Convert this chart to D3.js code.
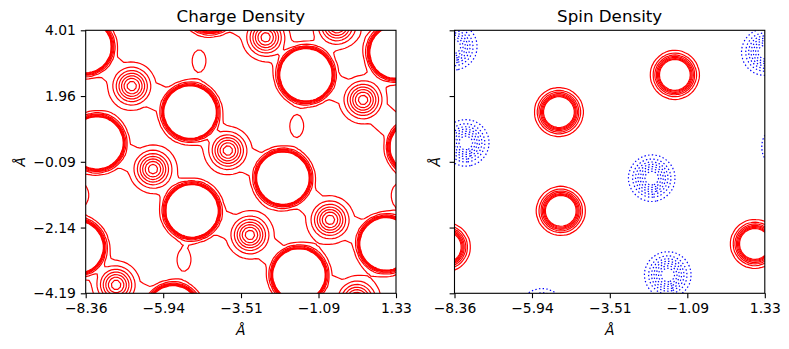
<!DOCTYPE html>
<html>
<head>
<meta charset="UTF-8">
<title>Charge and spin density</title>
<script src="https://cdnjs.cloudflare.com/ajax/libs/d3/7.8.5/d3.min.js"></script>
<style>
  body { margin: 0; background: #fff; }
  text { font-family: "DejaVu Sans", sans-serif; fill: #000; }
</style>
</head>
<body>
<script>
  // axis ticks (Angstrom)
  var xTicks = [-8.36, -5.94, -3.51, -1.09, 1.33];
  var yTicks = [4.01, 1.96, -0.09, -2.14, -4.19];

  // heavy (magnetic) atoms, spin sign +1 / -1
  var heavyX    = [-5.10, -1.48, -2.20, -5.04, -1.70, -8.01, -8.63, -8.38, -4.48, -5.63, 1.02, 1.33, 1.96];
  var heavyY    = [ 1.46,  2.62, -0.60, -1.62, -3.62,  0.50, -2.75,  3.50,  4.80, -4.77, -2.65, 3.33, 0.37];
  var heavySpin = [ 1,     1,    -1,     1,    -1,    -1,     1,    -1,    -1,    -1,     1,   -1,   -1];

  // light atoms (small peaked contours)
  var lightX = [-6.92, 0.30, -2.74, -3.92, -6.26, -0.73, -3.23, -7.41, 0.11, -0.51];
  var lightY = [ 2.27, 1.84,  3.79,  0.26, -0.32, -1.90, -2.37, -3.93, -4.40, 4.17];

  // heavy-light links that share the outer contour (indices into the lists above)
  var bondHeavy = [7, 0, 0, 2, 2, 10, 5, 3, 3, 4, 4, 8, 1, 1, 12, 6, 9];
  var bondLight = [0, 0, 3, 3, 5, 5,  4, 4, 6, 6, 8, 2, 2, 1, 1,  7, 7];

  // weak interstitial blobs
  var blobX = [-4.82, -1.77, -5.29, 1.40, -8.48];
  var blobY = [ 3.06,  1.02, -3.15, -1.13, -1.13];

  var chargeLevels = [0.1, 0.2, 0.3, 0.4, 0.5, 0.6, 0.7];
  var spinLevels = [-0.7, -0.6, -0.5, -0.4, -0.3, -0.2, -0.1, 0.1, 0.2, 0.3, 0.4, 0.5, 0.6, 0.7];

  var W = 789, H = 349;
  var axTop = 30.3, axBottom = 293.3, pw = 310.3;
  var panels = [
    {left: 85.7, title: "Charge Density", kind: "charge", yLabels: true, ylabX: 25},
    {left: 454.5, title: "Spin Density", kind: "spin", yLabels: false, ylabX: 440}
  ];

  // sampling grid, a bit larger than the view so edge closures are clipped away
  var step = 0.1, pad = 0.8;
  var gx0 = xTicks[0] - pad, gyTop = yTicks[0] + pad;
  var nx = Math.round((xTicks[4] - xTicks[0] + 2 * pad) / step) + 1;
  var ny = Math.round((yTicks[0] - yTicks[4] + 2 * pad) / step) + 1;

  function segDist(px, py, ax, ay, bx, by) {
    var vx = bx - ax, vy = by - ay;
    var t = ((px - ax) * vx + (py - ay) * vy) / (vx * vx + vy * vy);
    t = Math.max(0, Math.min(1, t));
    var dx = px - (ax + t * vx), dy = py - (ay + t * vy);
    return Math.sqrt(dx * dx + dy * dy);
  }

  function charge(px, py) {
    var v = 0, bond = 0;
    heavyX.forEach(function(hx, k) {
      var dx = px - hx, dy = py - heavyY[k], r2 = dx * dx + dy * dy, r = Math.sqrt(r2);
      v += 50 / (1 + Math.exp((r - 0.42) / 0.09)) + 0.15 * Math.exp(-r2 / (2 * 0.5 * 0.5));
    });
    lightX.forEach(function(lx, k) {
      var dx = px - lx, dy = py - lightY[k], r2 = dx * dx + dy * dy;
      v += 0.62 * Math.exp(-r2 / (2 * 0.32 * 0.32)) + 0.15 * Math.exp(-r2 / (2 * 0.55 * 0.55));
    });
    blobX.forEach(function(bx, k) {
      var dx = px - bx, dy = py - blobY[k];
      v += 0.16 * Math.exp(-dx * dx / (2 * 0.22 * 0.22) - dy * dy / (2 * 0.34 * 0.34));
    });
    bondHeavy.forEach(function(hk, k) {
      var lk = bondLight[k];
      var d = segDist(px, py, heavyX[hk], heavyY[hk], lightX[lk], lightY[lk]);
      bond = Math.max(bond, 0.15 * Math.exp(-d * d / (2 * 0.45 * 0.45)));
    });
    return Math.max(v, bond);
  }

  function spin(px, py) {
    var v = 0;
    heavyX.forEach(function(hx, k) {
      var dx = px - hx, dy = py - heavyY[k], r2 = dx * dx + dy * dy;
      if (heavySpin[k] > 0) v += 2.5 * Math.exp(-r2 / (2 * 0.3 * 0.3));
      else v -= 0.85 * Math.exp(-r2 / (2 * 0.35 * 0.35));
    });
    return v;
  }

  function grid(fn) {
    var vals = new Array(nx * ny);
    for (var j = 0; j < ny; j++)
      for (var i = 0; i < nx; i++)
        vals[j * nx + i] = fn(gx0 + i * step, gyTop - j * step);
    return vals;
  }

  var svg = d3.select("body").append("svg")
    .attr("width", W)
    .attr("height", H);

  var fmt = function(d) { return d3.format(".2f")(d).replace("-", "\u2212"); };

  panels.forEach(function(p, pi) {
    var x = d3.scaleLinear().domain([xTicks[0], xTicks[4]]).range([p.left, p.left + pw]);
    var y = d3.scaleLinear().domain([yTicks[4], yTicks[0]]).range([axBottom, axTop]);

    var proj = d3.geoTransform({
      point: function(cx, cy) {
        this.stream.point(x(gx0 + (cx - 0.5) * step), y(gyTop - (cy - 0.5) * step));
      }
    });
    var path = d3.geoPath(proj);

    svg.append("clipPath").attr("id", "clip" + pi)
      .append("rect")
      .attr("x", p.left).attr("y", axTop)
      .attr("width", pw).attr("height", axBottom - axTop);

    var g = svg.append("g").attr("clip-path", "url(#clip" + pi + ")");

    if (p.kind === "charge") {
      var cs = d3.contours().size([nx, ny]).thresholds(chargeLevels)(grid(charge));
      g.selectAll("path").data(cs).enter().append("path")
        .attr("d", path)
        .attr("fill", "none")
        .attr("stroke", "#ff0000")
        .attr("stroke-width", 1.2);
    } else {
      var ss = d3.contours().size([nx, ny]).thresholds(spinLevels)(grid(spin));
      g.selectAll("path").data(ss).enter().append("path")
        .attr("d", path)
        .attr("fill", "none")
        .attr("stroke", function(d) { return d.value < 0 ? "#0000ff" : "#ff0000"; })
        .attr("stroke-dasharray", function(d) { return d.value < 0 ? "1.4,2.3" : null; })
        .attr("stroke-width", 1.2);
    }

    // frame
    svg.append("rect")
      .attr("x", p.left).attr("y", axTop)
      .attr("width", pw).attr("height", axBottom - axTop)
      .attr("fill", "none").attr("stroke", "#000").attr("stroke-width", 1.1);

    var xAxis = d3.axisBottom(x).tickValues(xTicks).tickFormat(fmt).tickSize(4.9).tickPadding(4.9);
    var yAxis = d3.axisLeft(y).tickValues(yTicks).tickSize(4.9).tickPadding(4.9)
      .tickFormat(p.yLabels ? fmt : "");

    var gxA = svg.append("g").attr("transform", "translate(0," + axBottom + ")").call(xAxis);
    var gyA = svg.append("g").attr("transform", "translate(" + p.left + ",0)").call(yAxis);
    [gxA, gyA].forEach(function(a) {
      a.select(".domain").remove();
      a.selectAll("line").attr("stroke", "#000").attr("stroke-width", 1.1);
      a.selectAll("text").attr("font-size", "13.9px").attr("font-family", "DejaVu Sans, sans-serif").attr("fill", "#000");
    });

    svg.append("text")
      .attr("x", p.left + pw / 2).attr("y", 22)
      .attr("text-anchor", "middle")
      .attr("font-size", "16.7px")
      .text(p.title);

    svg.append("text")
      .attr("x", p.left + pw / 2).attr("y", 335)
      .attr("text-anchor", "middle")
      .attr("font-size", "13.9px")
      .attr("font-style", "italic")
      .text("\u00c5");

    svg.append("text")
      .attr("transform", "translate(" + p.ylabX + "," + ((axTop + axBottom) / 2) + ") rotate(-90)")
      .attr("text-anchor", "middle")
      .attr("font-size", "13.9px")
      .attr("font-style", "italic")
      .text("\u00c5");
  });
</script>
</body>
</html>
